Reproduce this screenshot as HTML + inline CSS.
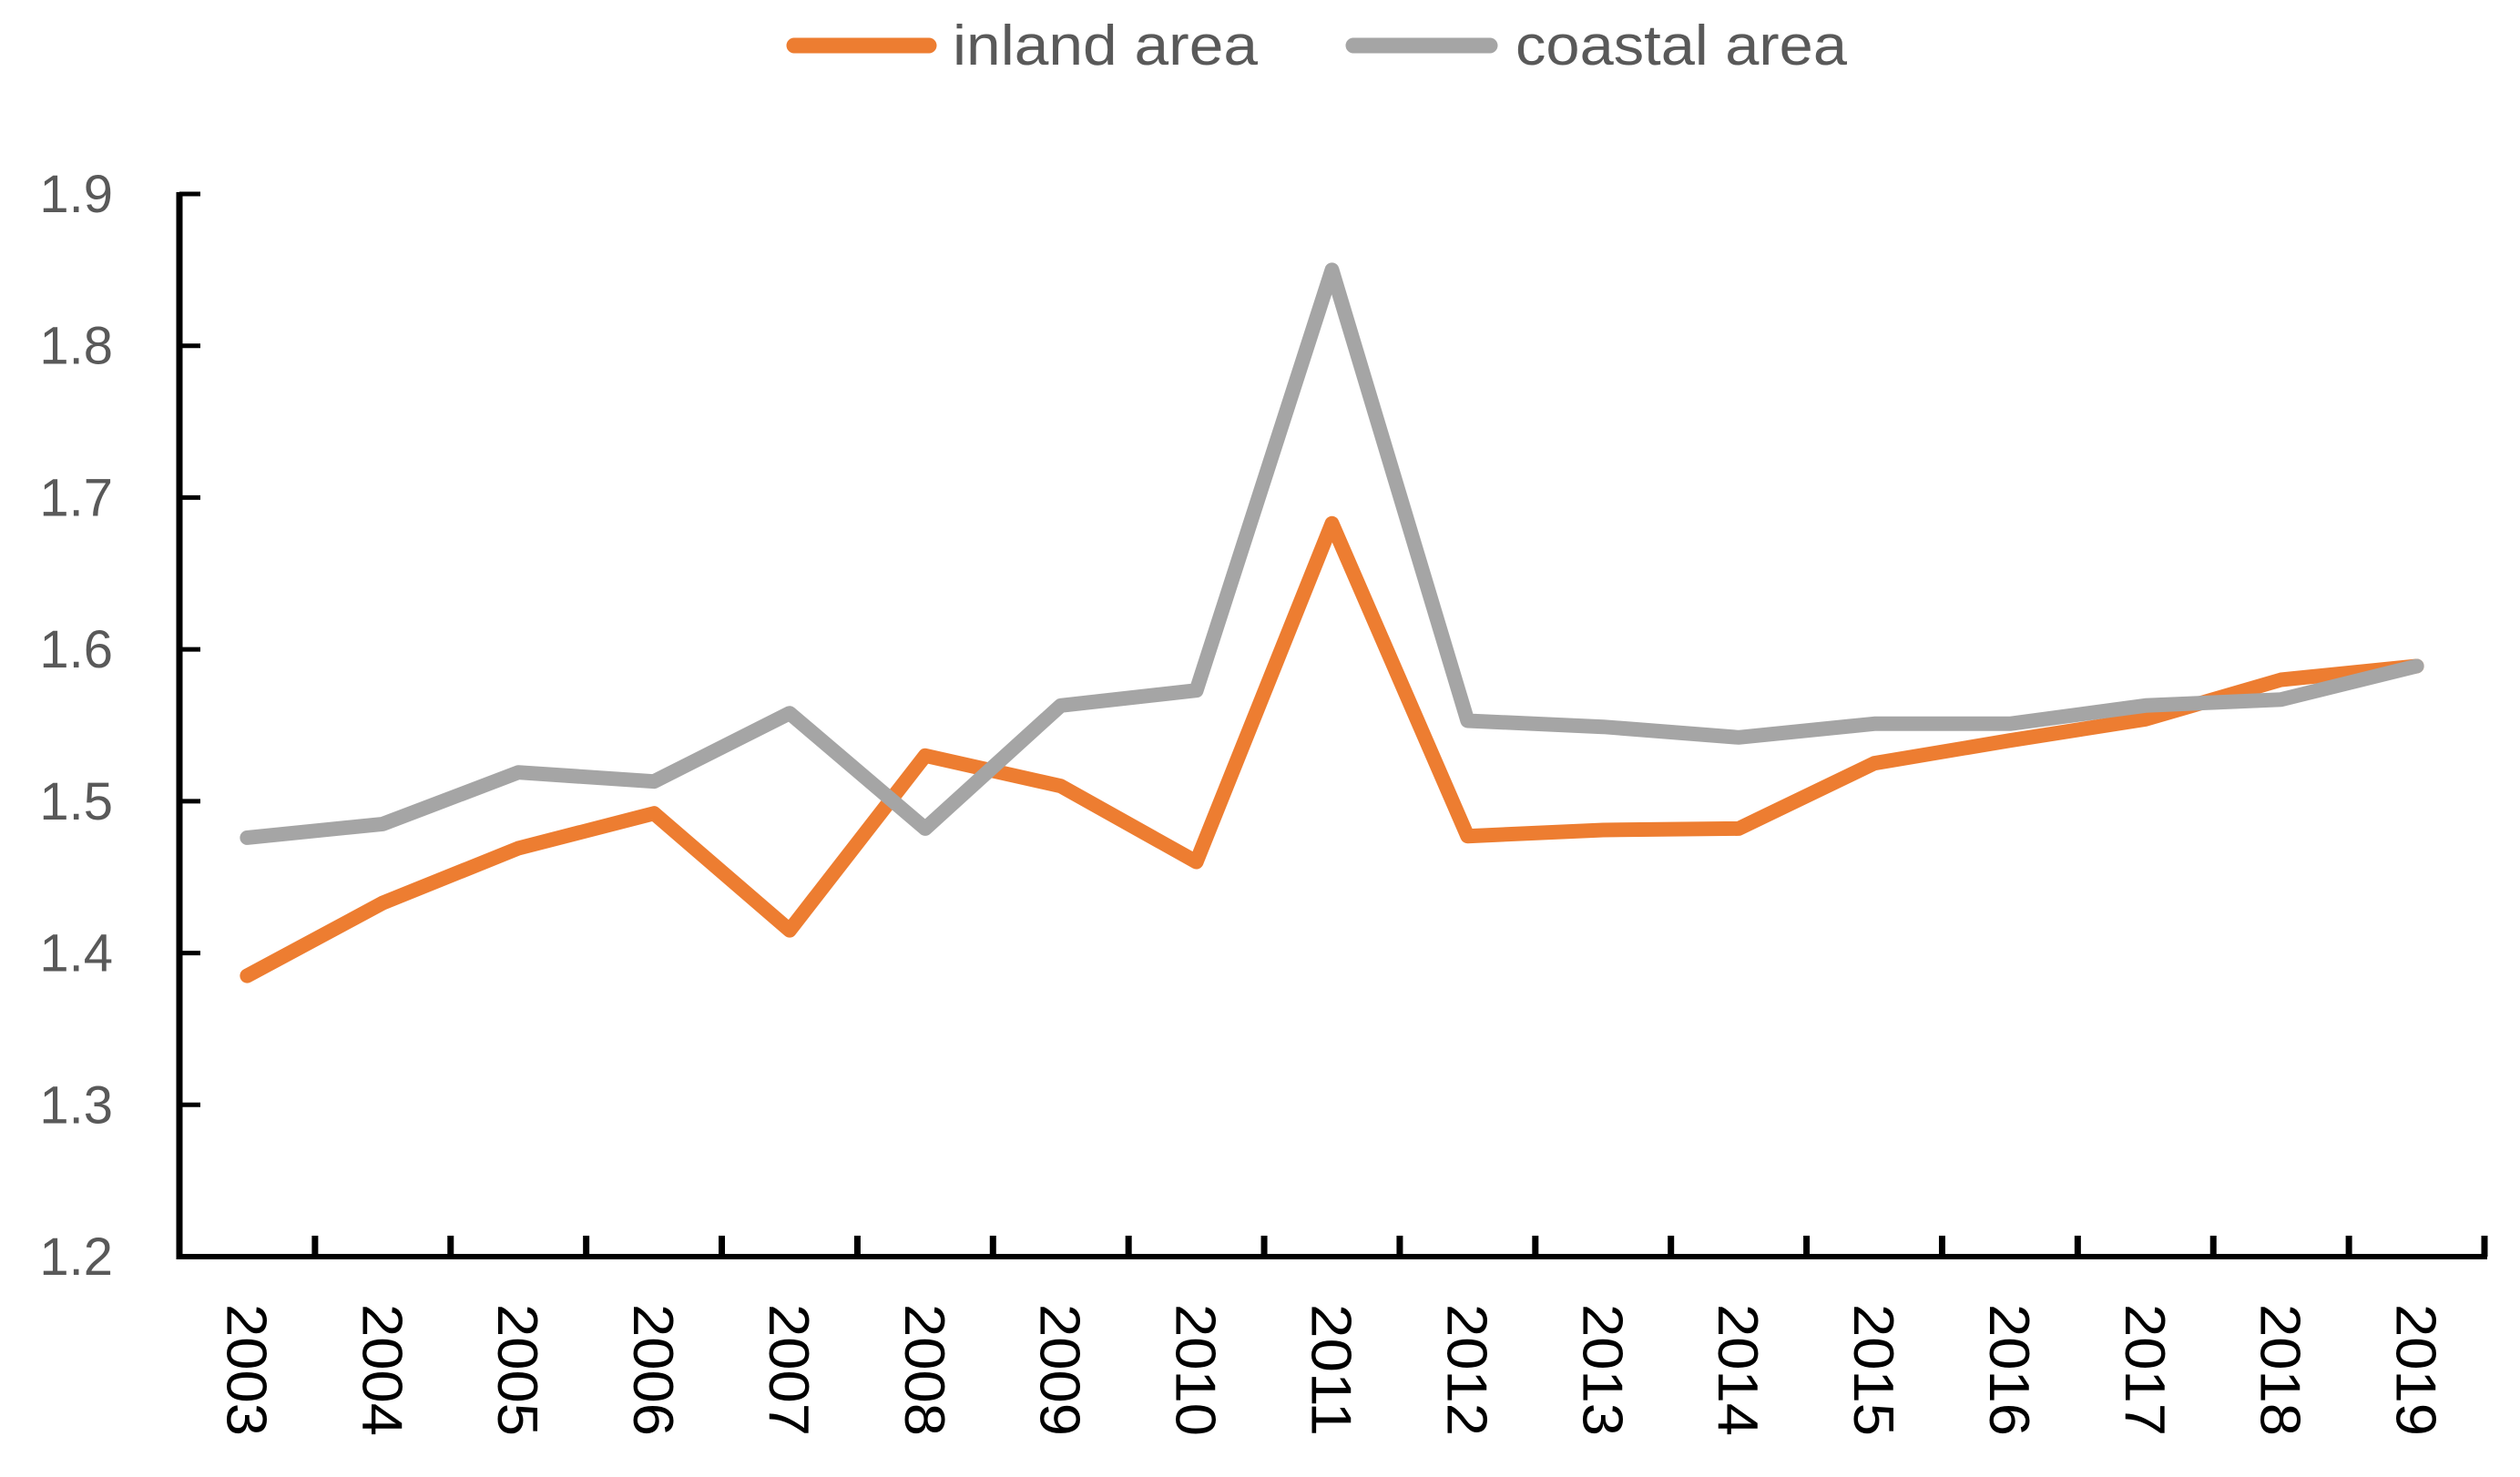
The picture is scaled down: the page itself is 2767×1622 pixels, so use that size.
<!DOCTYPE html>
<html><head><meta charset="utf-8"><style>
html,body{margin:0;padding:0;background:#fff;}
svg{display:block;}
</style></head><body>
<svg id="chart" width="2767" height="1622" viewBox="0 0 2767 1622" xmlns="http://www.w3.org/2000/svg" font-family="'Liberation Sans', sans-serif">
<g>
  <g>
    <line x1="872" y1="50" x2="1020" y2="50" stroke="#ED7D31" stroke-width="17" stroke-linecap="round"/>
    <text x="1046" y="71" font-size="62" fill="#595959" textLength="335" lengthAdjust="spacingAndGlyphs">inland area</text>
  </g>
  <g>
    <line x1="1486" y1="50" x2="1636" y2="50" stroke="#A5A5A5" stroke-width="17" stroke-linecap="round"/>
    <text x="1664" y="71" font-size="62" fill="#595959" textLength="364" lengthAdjust="spacingAndGlyphs">coastal area</text>
  </g>
</g>
<g id="axes"></g>
<g id="series"></g>
</svg>
<script>
const categories = ["2003","2004","2005","2006","2007","2008","2009","2010","2011","2012","2013","2014","2015","2016","2017","2018","2019"];
const inlandValues = [1.385,1.433,1.469,1.492,1.415,1.530,1.510,1.460,1.683,1.477,1.481,1.482,1.525,1.540,1.554,1.580,1.589];
const coastalValues = [1.476,1.485,1.519,1.513,1.558,1.482,1.563,1.573,1.850,1.553,1.549,1.542,1.551,1.551,1.563,1.567,1.589];
const yTicks = [1.2,1.3,1.4,1.5,1.6,1.7,1.8,1.9];

const NS = "http://www.w3.org/2000/svg";
const X0 = 197, X1 = 2728, Y0 = 1380, Y1 = 213, YMIN = 1.2, YMAX = 1.9;
const step = (X1 - X0) / categories.length;
function xPos(i){ return X0 + step * (i + 0.5); }
function yPos(v){ return Y0 - (v - YMIN) / (YMAX - YMIN) * (Y0 - Y1); }
function mk(tag, attrs, parent){ const e = document.createElementNS(NS, tag); for (const k in attrs) e.setAttribute(k, attrs[k]); parent.appendChild(e); return e; }

const axes = document.getElementById('axes');
const yAxis = mk('line', {x1:X0, y1:Y1-2, x2:X0, y2:Y0+3, stroke:'#000', 'stroke-width':7}, axes);


const xAxis = mk('line', {x1:X0-3, y1:Y0, x2:X1+3, y2:Y0, stroke:'#000', 'stroke-width':6}, axes);



yTicks.forEach(v => {
  const y = yPos(v);
  const t = mk('line', {x1:X0, y1:y, x2:X0+23, y2:y, stroke:'#000', 'stroke-width':5}, axes);
  
  
  const l = mk('text', {x:124, y:y+20, 'text-anchor':'end', 'font-size':58, fill:'#595959'}, axes);
  l.textContent = v.toFixed(1);
  
  
});

for (let i = 1; i <= categories.length; i++) {
  const x = X0 + step * i;
  const t = mk('line', {x1:x, y1:Y0, x2:x, y2:Y0-23, stroke:'#000', 'stroke-width':7}, axes);
  
  
}
categories.forEach((c, i) => {
  const x = xPos(i);
  const l = mk('text', {x:0, y:0, 'font-size':62, fill:'#000', transform:`translate(${x-22},1432) rotate(90)`, textLength:145, lengthAdjust:'spacingAndGlyphs'}, axes);
  l.textContent = c;
  
  
});

const series = document.getElementById('series');
function drawLine(vals, color, name){
  const pts = vals.map((v, i) => xPos(i).toFixed(1) + ',' + yPos(v).toFixed(1)).join(' ');
  const p = mk('polyline', {points:pts, fill:'none', stroke:color, 'stroke-width':16, 'stroke-linejoin':'round', 'stroke-linecap':'round'}, series);
  
  
}
drawLine(inlandValues, '#ED7D31', 'inland-area-line');
drawLine(coastalValues, '#A5A5A5', 'coastal-area-line');
</script>
</body></html>
